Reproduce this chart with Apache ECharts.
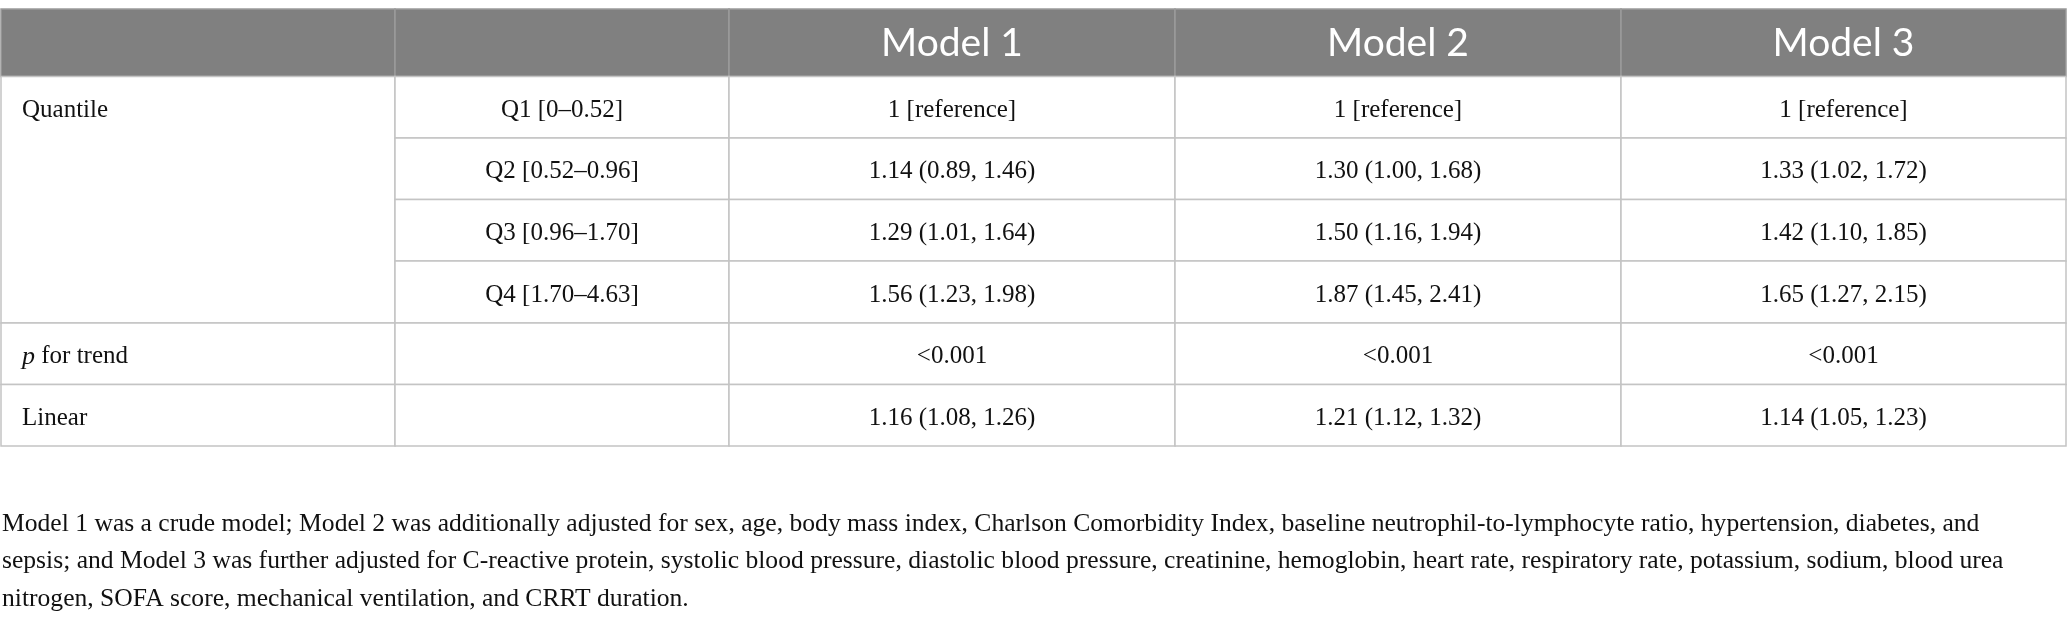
<!DOCTYPE html>
<html>
<head>
<meta charset="utf-8">
<script src="https://cdn.jsdelivr.net/npm/echarts@6/dist/echarts.min.js"></script>
<style>
    html, body {margin: 0; padding: 0; background: #fff;}
    #main {width: 2068px; height: 627px;}
</style>
</head>
<body>
<div id="main"></div>
<script>
    // table content
    var models = ['Model 1', 'Model 2', 'Model 3'];
    var groupLabels = ['Quantile', 'p for trend', 'Linear'];
    var quantiles = ['Q1 [0\u20130.52]', 'Q2 [0.52\u20130.96]', 'Q3 [0.96\u20131.70]', 'Q4 [1.70\u20134.63]'];
    var model1 = ['1 [reference]', '1.14 (0.89, 1.46)', '1.29 (1.01, 1.64)', '1.56 (1.23, 1.98)', '<0.001', '1.16 (1.08, 1.26)'];
    var model2 = ['1 [reference]', '1.30 (1.00, 1.68)', '1.50 (1.16, 1.94)', '1.87 (1.45, 2.41)', '<0.001', '1.21 (1.12, 1.32)'];
    var model3 = ['1 [reference]', '1.33 (1.02, 1.72)', '1.42 (1.10, 1.85)', '1.65 (1.27, 2.15)', '<0.001', '1.14 (1.05, 1.23)'];
    var footnote = [
        'Model 1 was a crude model; Model 2 was additionally adjusted for sex, age, body mass index, Charlson Comorbidity Index, baseline neutrophil-to-lymphocyte ratio, hypertension, diabetes, and',
        'sepsis; and Model 3 was further adjusted for C-reactive protein, systolic blood pressure, diastolic blood pressure, creatinine, hemoglobin, heart rate, respiratory rate, potassium, sodium, blood urea',
        'nitrogen, SOFA score, mechanical ventilation, and CRRT duration.'
    ];

    // layout (pixels of the 2068x627 picture)
    var colEdges = [1, 395, 729, 1175, 1621, 2066];
    var rowEdges = [9, 76.5, 138, 199.5, 261, 323, 384.5, 446];

    // cells: [col, rowFrom, rowTo, text, kind]
    var cells = [];
    cells.push([0, 0, 1, '', 'head']);
    cells.push([1, 0, 1, '', 'head']);
    models.forEach(function (m, i) {
        cells.push([i + 2, 0, 1, m, 'head']);
    });
    cells.push([0, 1, 5, groupLabels[0], 'left']);
    cells.push([0, 5, 6, groupLabels[1], 'leftp']);
    cells.push([0, 6, 7, groupLabels[2], 'left']);
    for (var r = 0; r < 6; r++) {
        cells.push([1, r + 1, r + 2, r < 4 ? quantiles[r] : '', 'body']);
        cells.push([2, r + 1, r + 2, model1[r], 'body']);
        cells.push([3, r + 1, r + 2, model2[r], 'body']);
        cells.push([4, r + 1, r + 2, model3[r], 'body']);
    }

    var bodyFont = '"Liberation Serif", "DejaVu Serif", serif';
    var bodySize = 25;

    function renderCell(params, api) {
        var c = api.value(0), r0 = api.value(1), r1 = api.value(2);
        var item = cells[params.dataIndex];
        var p0 = api.coord([colEdges[c], rowEdges[r0]]);
        var p1 = api.coord([colEdges[c + 1], rowEdges[r1]]);
        var w = p1[0] - p0[0], h = p1[1] - p0[1];
        var kind = item[4];
        var isHead = kind === 'head';
        var centered = kind === 'body' || isHead;
        var firstRowMid = p0[1] + (api.coord([0, rowEdges[r0 + 1]])[1] - p0[1]) / 2;
        var children = [{
            type: 'rect',
            shape: {x: p0[0], y: p0[1], width: w, height: h},
            style: {
                fill: isHead ? '#808080' : '#fff',
                stroke: isHead ? '#9a9a9a' : '#c4c4c4',
                lineWidth: 1.5
            }
        }];
        if (item[3]) {
            children.push({
                type: 'text',
                x: centered ? p0[0] + w / 2 : p0[0] + 21,
                y: isHead ? p0[1] + h / 2 + 1 : firstRowMid + 3,
                style: {
                    text: kind === 'leftp' ? '{i|p} for trend' : item[3],
                    fill: isHead ? '#fff' : '#111',
                    font: isHead ? '39px Lato, "Open Sans", sans-serif' : bodySize + 'px ' + bodyFont,
                    align: centered ? 'center' : 'left',
                    verticalAlign: 'middle',
                    rich: {
                        i: {fontStyle: 'italic', fontFamily: bodyFont, fontSize: bodySize + 1, fill: '#111'}
                    }
                }
            });
        }
        return {type: 'group', children: children};
    }

    var chart = echarts.init(document.getElementById('main'));

    var option = {
        animation: false,
        grid: {left: 0, right: 0, top: 0, bottom: 0},
        xAxis: {type: 'value', min: 0, max: 2068, show: false},
        yAxis: {type: 'value', min: 0, max: 627, inverse: true, show: false},
        series: [{
            type: 'custom',
            coordinateSystem: 'cartesian2d',
            renderItem: renderCell,
            data: cells.map(function (d) { return [d[0], d[1], d[2]]; }),
            silent: true
        }],
        graphic: footnote.map(function (line, i) {
            return {
                type: 'text',
                x: 2,
                y: 524 + i * 37.5,
                style: {
                    text: line,
                    font: '25.6px ' + bodyFont,
                    fill: '#111',
                    verticalAlign: 'middle'
                }
            };
        })
    };
    chart.setOption(option);
</script>
</body>
</html>
